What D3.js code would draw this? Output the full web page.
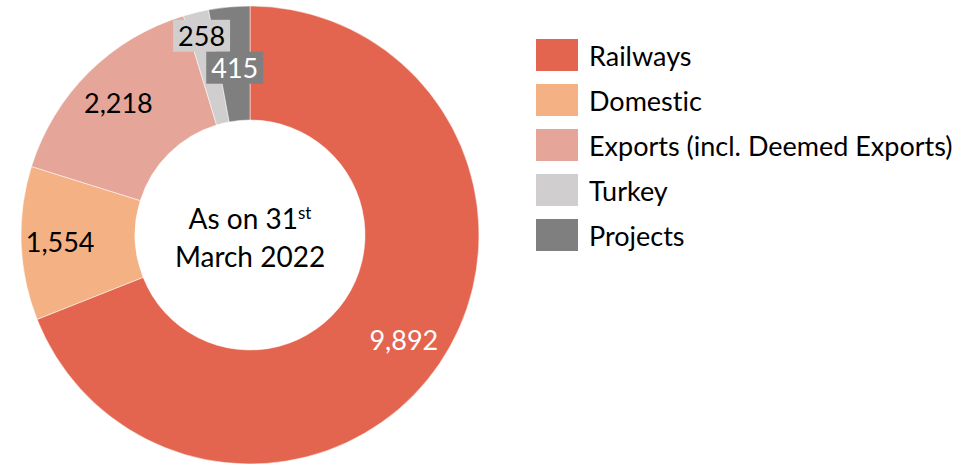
<!DOCTYPE html>
<html><head><meta charset="utf-8">
<script src="https://cdn.jsdelivr.net/npm/d3@7"></script>
<style>html,body{margin:0;padding:0;background:#fff;}svg{display:block;font-family:Lato,"Open Sans",sans-serif;font-variant-ligatures:none;}</style>
</head><body>
<svg id="c" width="974" height="465"></svg>
<script>
const categories = ["Railways","Domestic","Exports (incl. Deemed Exports)","Turkey","Projects"];
const values = [9892,1554,2218,258,415];
const valueLabels = ["9,892","1,554","2,218","258","415"];
const colors = ["#E4654F","#F4B183","#E5A699","#D0CECE","#7F7F7F"];
const labelColors = ["#fff","#000","#000","#000","#fff"];
const labelBoxes = [null,null,null,"#D0CECE","#7F7F7F"];

const svg = d3.select("#c");
const cx = 250, cy = 235, rOuter = 229, rInner = 115;
const g = svg.append("g").attr("transform",`translate(${cx},${cy})`);
const pie = d3.pie().sort(null).value(d=>d);
const arcs = pie(values);
const arc = d3.arc().innerRadius(rInner).outerRadius(rOuter);
g.selectAll("path.s").data(arcs).enter().append("path")
  .attr("d",arc).attr("fill",(d,i)=>colors[i])
  .attr("stroke","#fff").attr("stroke-width",0.5);

const labelR = [186,190,187,205,168];
const fs = 27;
arcs.forEach((d,i)=>{
  const a = (d.startAngle+d.endAngle)/2;
  const x = labelR[i]*Math.sin(a), y = -labelR[i]*Math.cos(a);
  const t = g.append("text").attr("x",x).attr("y",y).attr("text-anchor","middle")
    .attr("dominant-baseline","central").attr("font-size",fs).attr("fill",labelColors[i])
    .text(valueLabels[i]);
  if(labelBoxes[i]){
    const w = t.node().getComputedTextLength();
    g.insert("rect","text").attr("x",x-w/2-5).attr("y",y-16).attr("width",w+10).attr("height",32)
      .attr("fill",labelBoxes[i]);
    t.raise();
  }
});

// center text
const ct = g.append("text").attr("text-anchor","middle").attr("font-size",28).attr("fill","#000")
  .attr("x",0).attr("y",-17).attr("dominant-baseline","central");
ct.append("tspan").text("As on 31");
ct.append("tspan").attr("font-size",17).attr("dy",-6).text("st");
g.append("text").attr("text-anchor","middle").attr("font-size",28).attr("x",0).attr("y",21)
  .attr("dominant-baseline","central").text("March 2022");

// legend
const lg = svg.append("g").attr("transform","translate(536,39)");
categories.forEach((c,i)=>{
  const row = lg.append("g").attr("transform",`translate(0,${i*45})`);
  row.append("rect").attr("width",42).attr("height",32).attr("fill",colors[i]);
  row.append("text").attr("x",53).attr("y",16).attr("dominant-baseline","central")
    .attr("font-size",27).attr("fill","#000").text(c);
});
</script>
</body></html>
